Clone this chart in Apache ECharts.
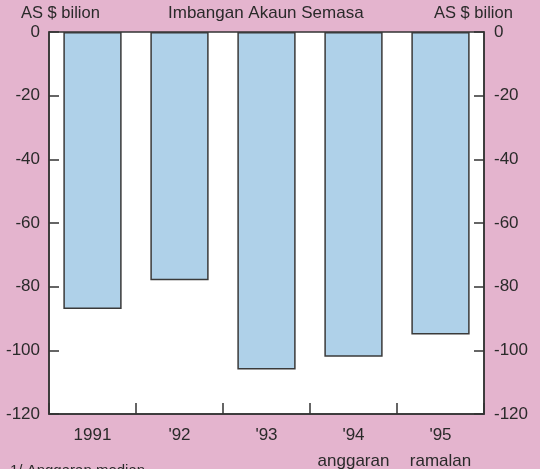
<!DOCTYPE html>
<html><head><meta charset="utf-8">
<script src="https://cdn.jsdelivr.net/npm/echarts@6/dist/echarts.min.js"></script>
<style>html,body{margin:0;padding:0;background:#e4b4ce;}#c{width:540px;height:469px;}</style>
</head><body><div id="c"></div>
<script>
const categories = ['1991', "'92", "'93", "'94\nanggaran", "'95\nramalan"];
const values = [-87, -78, -106, -102, -95];
const yTicks = {min: -120, max: 0, interval: 20};
const title = 'Imbangan Akaun Semasa';
const unitLabel = 'AS $ bilion';
const footnote = '1/ Anggaran median';

const chart = echarts.init(document.getElementById('c'));
const font = 'Liberation Sans, Arial, sans-serif';
const txt = '#2a2a2a';
const yAxisBase = {
  type: 'value', min: yTicks.min, max: yTicks.max, interval: yTicks.interval,
  axisLine: {show: true, lineStyle: {color: '#333', width: 1.5}},
  axisTick: {show: true, inside: true, length: 10, lineStyle: {color: '#333', width: 1.5}},
  splitLine: {show: false},
  axisLabel: {color: txt, fontSize: 17, fontFamily: font}
};
chart.setOption({
  backgroundColor: '#e4b4ce',
  animation: false,
  graphic: [
    {type: 'text', left: 21, top: 5, style: {text: unitLabel, fill: txt, font: '16.5px ' + font}},
    {type: 'text', left: 434, top: 5, style: {text: unitLabel, fill: txt, font: '16.5px ' + font}},
    {type: 'text', left: 168, top: 5, style: {text: title, fill: txt, font: '17px ' + font}},
    {type: 'text', left: 10, top: 463, style: {text: footnote, fill: txt, font: '15px ' + font}}
  ],
  grid: {left: 49, right: 56, top: 32, bottom: 55, outerBoundsMode: 'none', containLabel: false,
         show: true, backgroundColor: '#ffffff', borderColor: '#333', borderWidth: 1.5},
  xAxis: {
    type: 'category', data: categories, position: 'bottom',
    axisLine: {show: true, onZero: false, lineStyle: {color: '#333', width: 1.5}},
    axisTick: {show: true, inside: true, interval: 0, length: 11, lineStyle: {color: '#333', width: 1.5}},
    axisLabel: {interval: 0, hideOverlap: false, color: txt, fontSize: 17, fontFamily: font, margin: 8, lineHeight: 26}
  },
  yAxis: [
    Object.assign({}, yAxisBase, {position: 'left', axisLabel: Object.assign({}, yAxisBase.axisLabel, {margin: 9})}),
    Object.assign({}, yAxisBase, {position: 'right', axisLabel: Object.assign({}, yAxisBase.axisLabel, {margin: 10})})
  ],
  series: [{
    type: 'bar', data: values, barWidth: '67%', yAxisIndex: 0,
    itemStyle: {color: '#afd1e9', borderColor: '#3a3a3a', borderWidth: 1.5}
  }]
});
</script></body></html>
